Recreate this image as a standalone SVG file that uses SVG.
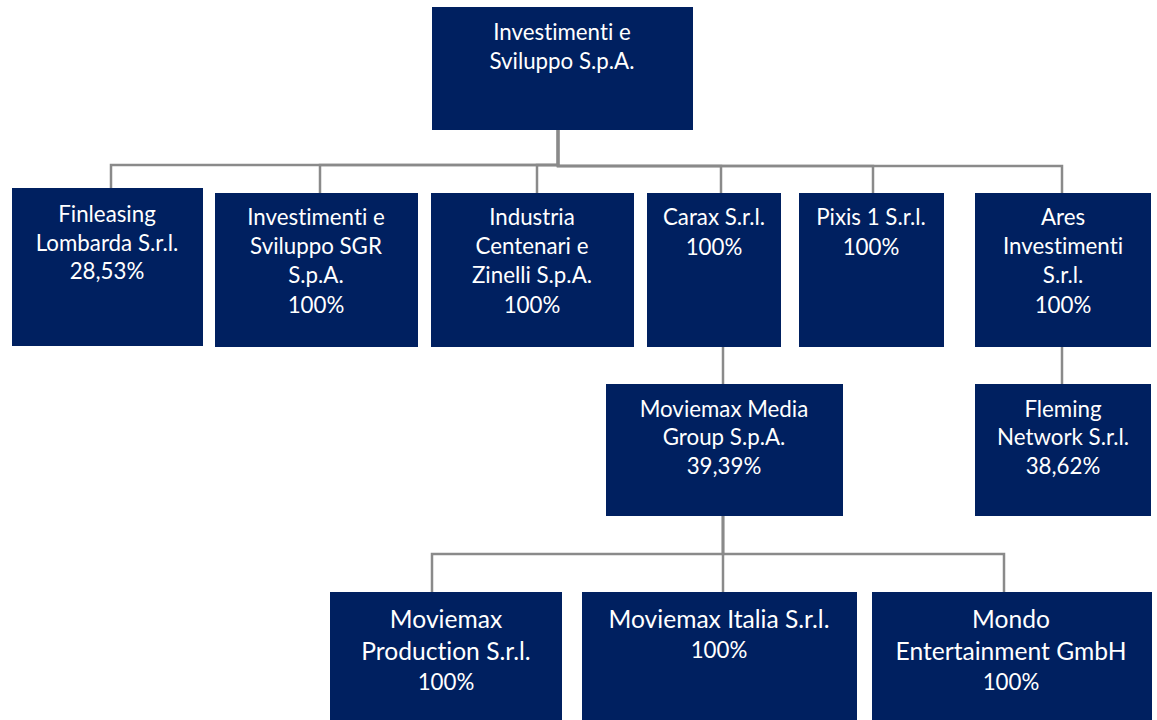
<svg xmlns="http://www.w3.org/2000/svg" width="1157" height="720" viewBox="0 0 1157 720">
<style>
.box{fill:#002060}
.t{font-family:Lato,"Liberation Sans",sans-serif;font-size:22.3px;fill:#ffffff;text-anchor:middle;font-variant-ligatures:none}
.tb{font-family:Lato,"Liberation Sans",sans-serif;font-size:24.6px;fill:#ffffff;text-anchor:middle;font-variant-ligatures:none}
.c{fill:none;stroke:#8a8a8a;stroke-width:2.5}
</style>
<rect width="1157" height="720" fill="#ffffff"/>
<g id="connectors">
<path class="c" d="M558,130 V165 H111 V188"/>
<path class="c" d="M558,130 V165 H320 V193"/>
<path class="c" d="M558,130 V165 H537 V193"/>
<path class="c" d="M558,130 V166 H721 V193"/>
<path class="c" d="M558,130 V166 H873 V193"/>
<path class="c" d="M558,130 V166 H1062 V193"/>
<path class="c" d="M723,347 V384"/>
<path class="c" d="M1062,347 V384"/>
<path class="c" d="M723,516 V554 H432 V592"/>
<path class="c" d="M723,516 V592"/>
<path class="c" d="M723,516 V554 H1004 V592"/>
</g>
<g id="n-root"><rect class="box" x="432" y="7" width="261" height="123"/>
<text class="t" x="562" y="40">Investimenti e</text><text class="t" x="562" y="69">Sviluppo S.p.A.</text></g>
<g id="n-finleasing"><rect class="box" x="12" y="188" width="191" height="158"/>
<text class="t" x="107" y="222">Finleasing</text><text class="t" x="107" y="251">Lombarda S.r.l.</text><text class="t" x="107" y="279">28,53%</text></g>
<g id="n-sgr"><rect class="box" x="215" y="193" width="203" height="154"/>
<text class="t" x="316" y="225">Investimenti e</text><text class="t" x="316" y="254">Sviluppo SGR</text><text class="t" x="316" y="283">S.p.A.</text><text class="t" x="316" y="313">100%</text></g>
<g id="n-industria"><rect class="box" x="431" y="193" width="203" height="154"/>
<text class="t" x="532" y="225">Industria</text><text class="t" x="532" y="254">Centenari e</text><text class="t" x="532" y="283">Zinelli S.p.A.</text><text class="t" x="532" y="313">100%</text></g>
<g id="n-carax"><rect class="box" x="647" y="193" width="134" height="154"/>
<text class="t" x="714" y="225">Carax S.r.l.</text><text class="t" x="714" y="255">100%</text></g>
<g id="n-pixis"><rect class="box" x="799" y="193" width="145" height="154"/>
<text class="t" x="871" y="225">Pixis 1 S.r.l.</text><text class="t" x="871" y="255">100%</text></g>
<g id="n-ares"><rect class="box" x="975" y="193" width="176" height="154"/>
<text class="t" x="1063" y="225">Ares</text><text class="t" x="1063" y="254">Investimenti</text><text class="t" x="1063" y="283">S.r.l.</text><text class="t" x="1063" y="313">100%</text></g>
<g id="n-moviemax-media"><rect class="box" x="606" y="384" width="237" height="132"/>
<text class="t" x="724" y="417">Moviemax Media</text><text class="t" x="724" y="445">Group S.p.A.</text><text class="t" x="724" y="474">39,39%</text></g>
<g id="n-fleming"><rect class="box" x="975" y="384" width="176" height="132"/>
<text class="t" x="1063" y="417">Fleming</text><text class="t" x="1063" y="445">Network S.r.l.</text><text class="t" x="1063" y="474">38,62%</text></g>
<g id="n-production"><rect class="box" x="330" y="592" width="232" height="128"/>
<text class="tb" x="446" y="628">Moviemax</text><text class="tb" x="446" y="660">Production S.r.l.</text><text class="t" x="446" y="690">100%</text></g>
<g id="n-italia"><rect class="box" x="582" y="592" width="275" height="128"/>
<text class="tb" x="719" y="628">Moviemax Italia S.r.l.</text><text class="t" x="719" y="658">100%</text></g>
<g id="n-mondo"><rect class="box" x="872" y="592" width="280" height="128"/>
<text class="tb" x="1011" y="628">Mondo</text><text class="tb" x="1011" y="660">Entertainment GmbH</text><text class="t" x="1011" y="690">100%</text></g>
</svg>
